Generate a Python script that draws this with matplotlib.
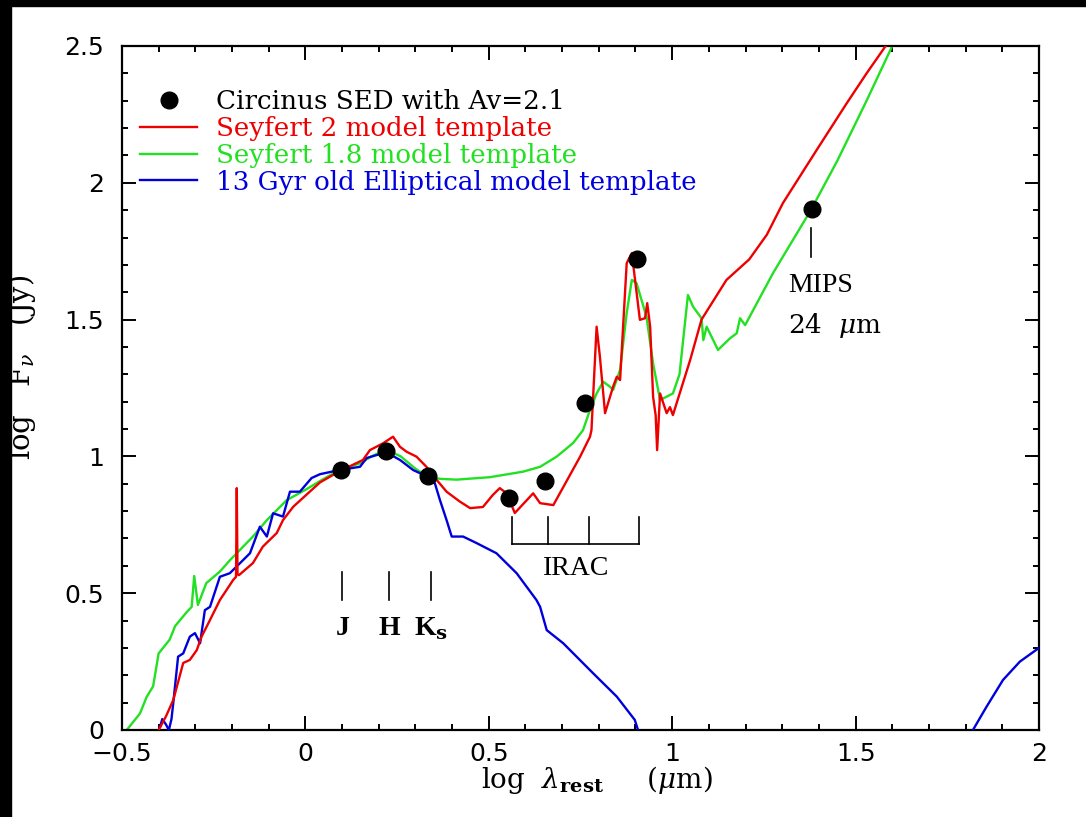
"""Circinus SED vs Seyfert / elliptical templates (log F_nu vs log lambda_rest)."""
import matplotlib

matplotlib.use("Agg")
import matplotlib.pyplot as plt
from matplotlib.lines import Line2D
from matplotlib.patches import Rectangle
from matplotlib.ticker import MultipleLocator

plt.rcParams["mathtext.fontset"] = "dejavuserif"

# photometry: J, H, Ks, IRAC 3.6/4.5/5.8/8.0, MIPS 24
sed_x = [0.097, 0.22, 0.333, 0.556, 0.653, 0.763, 0.903, 1.380]
sed_y = [0.950, 1.020, 0.928, 0.848, 0.910, 1.195, 1.720, 1.904]

# Seyfert 2 template (red)
sy2_x = [-0.40, -0.38, -0.36, -0.333, -0.315, -0.296, -0.283, -0.26, -0.233, -0.197,
         -0.189, -0.187, -0.185, -0.181, -0.143, -0.116, -0.078, -0.061, -0.033, 0.003,
         0.04, 0.092, 0.157, 0.176, 0.212, 0.239, 0.258, 0.276, 0.303, 0.33,
         0.358, 0.385, 0.421, 0.449, 0.484, 0.511, 0.53, 0.549, 0.571, 0.621,
         0.64, 0.676, 0.749, 0.776, 0.78, 0.794, 0.803, 0.817, 0.839, 0.849,
         0.858, 0.876, 0.89, 0.912, 0.926, 0.932, 0.94, 0.948, 0.955, 0.959,
         0.967, 0.985, 0.994, 1.002, 1.049, 1.08, 1.148, 1.21, 1.258, 1.302,
         1.394, 1.476, 1.53, 1.582]
sy2_y = [0.0, 0.05, 0.11, 0.245, 0.256, 0.292, 0.341, 0.402, 0.475, 0.548,
         0.56, 0.884, 0.57, 0.566, 0.61, 0.67, 0.72, 0.767, 0.816, 0.86,
         0.905, 0.945, 0.987, 1.023, 1.048, 1.072, 1.035, 1.017, 0.999, 0.962,
         0.914, 0.871, 0.835, 0.811, 0.815, 0.859, 0.884, 0.865, 0.793, 0.865,
         0.829, 0.822, 0.999, 1.072, 1.096, 1.474, 1.364, 1.158, 1.255, 1.291,
         1.279, 1.706, 1.743, 1.499, 1.505, 1.56, 1.474, 1.218, 1.15, 1.023,
         1.23, 1.158, 1.18, 1.151, 1.352, 1.5, 1.645, 1.72, 1.81, 1.926,
         2.12, 2.291, 2.40, 2.50]

# Seyfert 1.8 template (green)
sy18_x = [-0.487, -0.451, -0.433, -0.415, -0.40, -0.37, -0.355, -0.324, -0.31, -0.303,
          -0.293, -0.27, -0.233, -0.206, -0.143, -0.105, -0.051, 0.003, 0.04, 0.092,
          0.15, 0.18, 0.22, 0.26, 0.30, 0.333, 0.367, 0.412, 0.503, 0.593,
          0.64, 0.685, 0.73, 0.757, 0.776, 0.794, 0.812, 0.83, 0.839, 0.858,
          0.876, 0.89, 0.903, 0.93, 0.948, 0.967, 1.002, 1.02, 1.043, 1.057,
          1.08, 1.085, 1.094, 1.125, 1.158, 1.176, 1.185, 1.199, 1.275, 1.378,
          1.45, 1.53, 1.60]
sy18_y = [0.0, 0.06, 0.12, 0.16, 0.28, 0.33, 0.38, 0.43, 0.45, 0.563,
          0.457, 0.537, 0.579, 0.62, 0.707, 0.767, 0.84, 0.88, 0.91, 0.95,
          0.975, 1.0, 1.025, 1.0, 0.955, 0.926, 0.918, 0.915, 0.924, 0.944,
          0.962, 0.999, 1.049, 1.096, 1.17, 1.23, 1.273, 1.255, 1.243, 1.316,
          1.524, 1.645, 1.633, 1.51, 1.34, 1.206, 1.23, 1.30, 1.59, 1.547,
          1.505, 1.425, 1.474, 1.389, 1.432, 1.45, 1.505, 1.48, 1.67, 1.90,
          2.08, 2.30, 2.50]

# 13 Gyr elliptical template (blue), two visible pieces
ell_x = [-0.396, -0.39, -0.38, -0.372, -0.365, -0.36, -0.347, -0.333, -0.315, -0.301,
         -0.287, -0.274, -0.26, -0.233, -0.206, -0.178, -0.151, -0.124, -0.105, -0.088,
         -0.061, -0.042, -0.015, 0.017, 0.04, 0.092, 0.149, 0.167, 0.22, 0.258,
         0.294, 0.333, 0.353, 0.367, 0.385, 0.399, 0.43, 0.467, 0.521, 0.576,
         0.63, 0.64, 0.658, 0.703, 0.784, 0.849, 0.898, 0.907]
ell_y = [0.012, 0.04, 0.02, 0.0, 0.04, 0.10, 0.268, 0.28, 0.341, 0.354,
         0.317, 0.438, 0.45, 0.56, 0.573, 0.61, 0.646, 0.743, 0.707, 0.792,
         0.78, 0.871, 0.871, 0.921, 0.935, 0.95, 0.962, 0.994, 1.015, 0.987,
         0.95, 0.926, 0.902, 0.84, 0.767, 0.707, 0.707, 0.683, 0.646, 0.573,
         0.475, 0.45, 0.365, 0.317, 0.208, 0.122, 0.037, 0.0]
ell2_x = [1.82, 1.857, 1.902, 1.948, 2.0]
ell2_y = [0.0, 0.085, 0.183, 0.25, 0.30]

# filter markers
jhk_x = [0.101, 0.228, 0.342]
jhk_lab = ["J", "H", r"K$_{\mathbf{s}}$"]
irac_x = [0.564, 0.662, 0.773, 0.910]
mips_x = 1.378

RED, GREEN, BLUE = "#ee0000", "#22e022", "#0000dd"

fig = plt.figure(figsize=(10.86, 8.17), dpi=100)
ax = fig.add_axes([0.1123, 0.1065, 0.8444, 0.8372])

ax.plot(sy18_x, sy18_y, color=GREEN, lw=1.7, zorder=2)
ax.plot(ell_x, ell_y, color=BLUE, lw=1.7, zorder=3)
ax.plot(ell2_x, ell2_y, color=BLUE, lw=1.7, zorder=3)
ax.plot(sy2_x, sy2_y, color=RED, lw=1.7, zorder=4)
ax.plot(sed_x, sed_y, "o", color="black", ms=12, zorder=5)

# J H Ks
for x, lab in zip(jhk_x, jhk_lab):
    ax.plot([x, x], [0.475, 0.579], color="black", lw=1.2)
    ax.text(x, 0.37, lab, ha="center", va="center", fontsize=20,
            family="Liberation Serif", fontweight="bold")

# IRAC bracket
for x in irac_x:
    ax.plot([x, x], [0.68, 0.78], color="black", lw=1.2)
ax.plot([irac_x[0], irac_x[-1]], [0.68, 0.68], color="black", lw=1.2)
ax.text(0.738, 0.592, "IRAC", ha="center", va="center", fontsize=20,
        family="Liberation Serif")

# MIPS
ax.plot([mips_x, mips_x], [1.729, 1.835], color="black", lw=1.2)
ax.text(1.315, 1.626, "MIPS", ha="left", va="center", fontsize=20,
        family="Liberation Serif")
ax.text(1.315, 1.48, r"24  $\mu$m", ha="left", va="center", fontsize=19,
        family="DejaVu Serif")

ax.set_xlim(-0.5, 2.0)
ax.set_ylim(0, 2.5)
ax.xaxis.set_major_locator(MultipleLocator(0.5))
ax.xaxis.set_minor_locator(MultipleLocator(0.1))
ax.yaxis.set_major_locator(MultipleLocator(0.5))
ax.yaxis.set_minor_locator(MultipleLocator(0.1))
ax.xaxis.set_major_formatter(plt.FuncFormatter(lambda v, p: f"{v:g}".replace("-", "\u2212")))
ax.yaxis.set_major_formatter(plt.FuncFormatter(lambda v, p: f"{v:g}"))
ax.tick_params(which="both", direction="in", top=True, right=True, width=1.4,
               labelsize=18)
ax.tick_params(which="major", length=10)
ax.tick_params(which="minor", length=4.5)
ax.tick_params(axis="x", pad=9)
ax.tick_params(axis="y", pad=13)
for s in ax.spines.values():
    s.set_linewidth(1.6)

ax.set_xlabel(r"log  $\lambda_{\mathbf{rest}}$     ($\mu$m)", fontsize=20,
              family="DejaVu Serif")
ax.xaxis.set_label_coords(0.518, -0.05)
ax.set_ylabel(r"log   F$_{\nu}$   (Jy)", fontsize=21, family="DejaVu Serif")
ax.yaxis.set_label_coords(-0.092, 0.53)

handles = [
    Line2D([], [], ls="none", marker="o", color="black", ms=12),
    Line2D([], [], color=RED, lw=1.7),
    Line2D([], [], color=GREEN, lw=1.7),
    Line2D([], [], color=BLUE, lw=1.7),
]
labels = ["Circinus SED with Av=2.1", "Seyfert 2 model template",
          "Seyfert 1.8 model template", "13 Gyr old Elliptical model template"]
leg = ax.legend(handles, labels, loc="upper left", bbox_to_anchor=(0.0196, 0.937),
                frameon=False, borderpad=0, borderaxespad=0, labelspacing=0.07,
                handlelength=2.2, handletextpad=0.7, labelcolor="linecolor",
                prop={"family": "DejaVu Serif", "size": 18.8})

# black scan border on left and top
fig.add_artist(Rectangle((0, 0), 11 / 1086, 1, transform=fig.transFigure,
                         color="black", zorder=10))
fig.add_artist(Rectangle((0, 1 - 6 / 817), 1, 6 / 817, transform=fig.transFigure,
                         color="black", zorder=10))

fig.savefig("out.png", dpi=100, facecolor="white")
